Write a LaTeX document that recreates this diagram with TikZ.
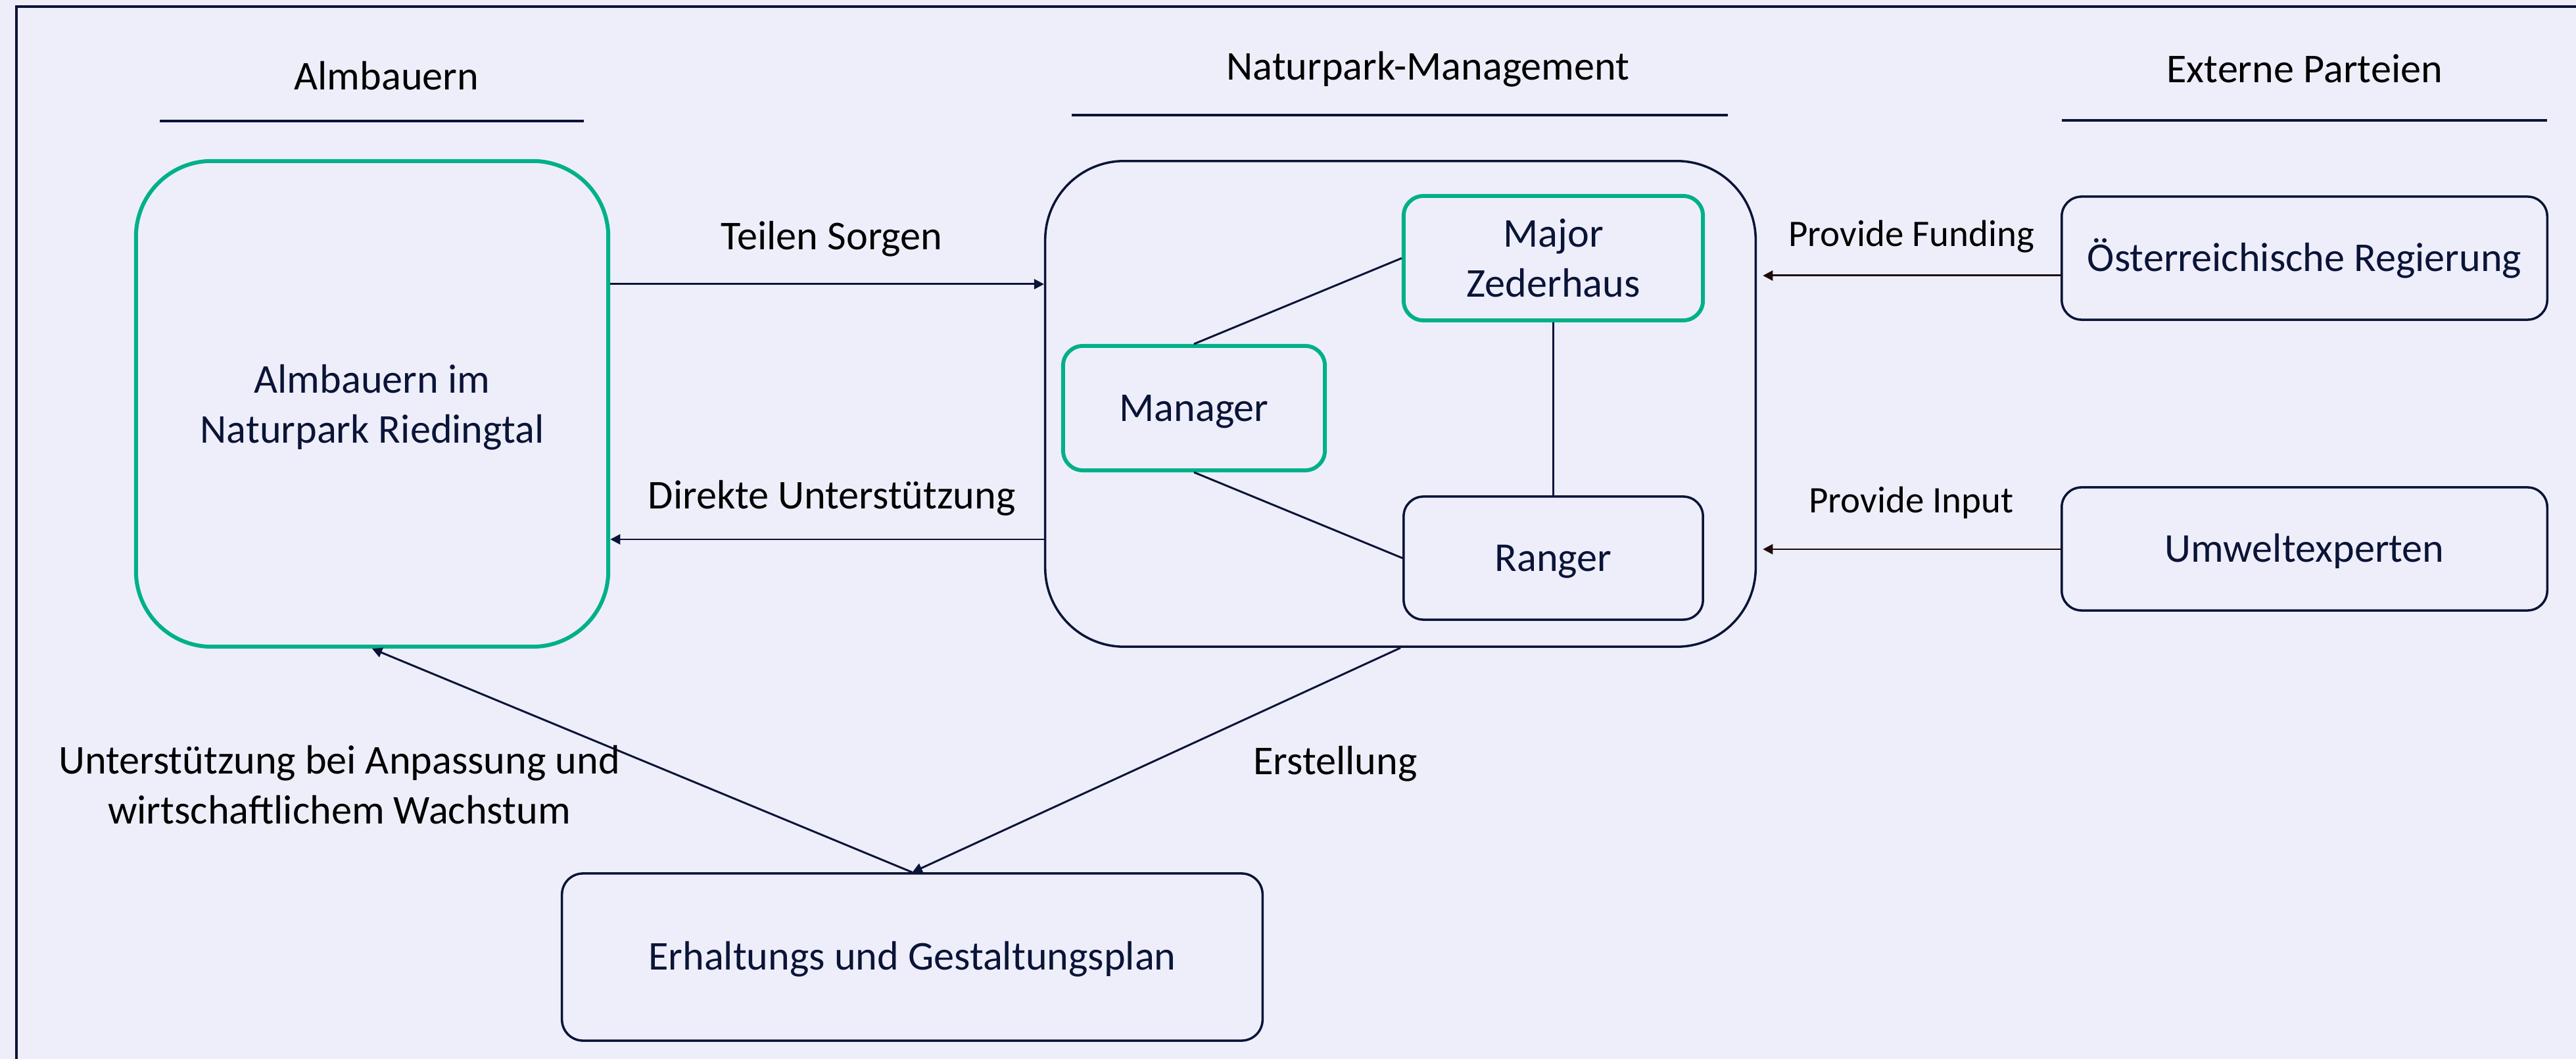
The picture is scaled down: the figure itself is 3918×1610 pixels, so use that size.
\documentclass[tikz,border=0pt]{standalone}
\usepackage{fontspec}
\setmainfont{Carlito}
\usetikzlibrary{arrows.meta}
\definecolor{bg}{HTML}{EEEEFA}
\definecolor{navy}{HTML}{0A1437}
\definecolor{grn}{HTML}{00B08A}
\definecolor{dkred}{HTML}{200A0A}
\begin{document}
\begin{tikzpicture}[x=0.01cm,y=-0.01cm,
  txt/.style={font=\fontsize{17.7}{21.6}\selectfont},
  smalltxt/.style={font=\fontsize{16.2}{19.8}\selectfont},
  box/.style={draw=navy, line width=1pt, text=navy, txt, align=center, inner sep=0pt},
  gbox/.style={box, draw=grn, line width=1.7pt},
  one/.style={text height=11.2pt, text depth=0pt},
  lbl/.style={txt, text=black, anchor=base, inner sep=0pt},
  arr/.style={draw=navy, line width=0.85pt, -{Triangle[length=4.3pt,width=4.3pt]}},
  parr/.style={draw=dkred, line width=0.85pt, -{Triangle[length=4.3pt,width=4.3pt]}, shorten >=2.6pt},
  link/.style={draw=navy, line width=0.85pt},
  rulestyle/.style={draw=navy, line width=1pt},
]
\useasboundingbox[fill=bg] (0,0) rectangle (3918,1610);
\draw[navy, line width=1pt] (25,1610) -- (25,10) -- (3918,10);

% headers
\node[lbl] (hAlm) at (588,137) {Almbauern};
\node[lbl] (hNat) at (2172,122) {Naturpark-Management};
\node[lbl] (hExt) at (3505,126) {Externe Parteien};
\draw[rulestyle] (243,184) -- (888,184);
\draw[rulestyle] (1630,175) -- (2628,175);
\draw[rulestyle] (3136,183) -- (3874,183);

% boxes
\node[gbox, minimum width=7.18cm, minimum height=7.38cm, rounded corners=1.15cm] (alm) at (566,614)
  {Almbauern im\\\raisebox{0pt}[\height][0pt]{Naturpark Riedingtal}};
\node[box, minimum width=10.8cm, minimum height=7.38cm, rounded corners=1.2cm] (nat) at (2130,614) {};
\node[gbox, minimum width=4.55cm, minimum height=1.89cm, rounded corners=0.3cm] (maj) at (2362.5,392.5) {Major\\Zederhaus};
\node[gbox, one, minimum width=3.98cm, minimum height=1.89cm, rounded corners=0.3cm] (man) at (1816,620.5) {Manager};
\node[box, one, minimum width=4.55cm, minimum height=1.87cm, rounded corners=0.3cm] (ran) at (2362.5,848.5) {Ranger};
\node[box, one, minimum width=7.38cm, minimum height=1.87cm, rounded corners=0.3cm] (reg) at (3505,392.5) {Österreichische Regierung};
\node[box, one, minimum width=7.38cm, minimum height=1.87cm, rounded corners=0.3cm] (umw) at (3505,834.5) {Umweltexperten};
\node[box, one, minimum width=10.65cm, minimum height=2.54cm, rounded corners=0.32cm] (plan) at (1387.5,1455) {Erhaltungs und Gestaltungsplan};

% internal links
\draw[link] (man.north) -- (maj.west);
\draw[link] (man.south) -- (ran.west);
\draw[link] (maj.south) -- (ran.north);

% helper coordinates for horizontal arrows
\coordinate (yT) at (0,432);
\coordinate (yD) at (0,820);
\coordinate (yF) at (0,419);
\coordinate (yI) at (0,835);

\draw[arr] (alm.east |- yT) -- (nat.west |- yT);
\draw[arr] (nat.west |- yD) -- (alm.east |- yD);
\draw[parr] (reg.west |- yF) -- (nat.east |- yF);
\draw[parr] (umw.west |- yI) -- (nat.east |- yI);
\draw[arr] (nat.south) -- (plan.north);
\draw[arr] (plan.north) -- (alm.south);

% labels
\node[lbl] (lTeil) at (1265,380) {Teilen Sorgen};
\node[lbl] (lDir) at (1265,774) {Direkte Unterstützung};
\node[lbl, smalltxt] (lFund) at (2907,375) {Provide Funding};
\node[lbl, smalltxt] (lInp) at (2907,780) {Provide Input};
\node[lbl] (lErst) at (2031,1177) {Erstellung};
\node[txt, text=black, align=center, inner sep=0pt] (lUnt) at (516,1193.5)
  {Unterstützung bei Anpassung und\\wirtschaftlichem Wachstum};
\end{tikzpicture}
\end{document}
